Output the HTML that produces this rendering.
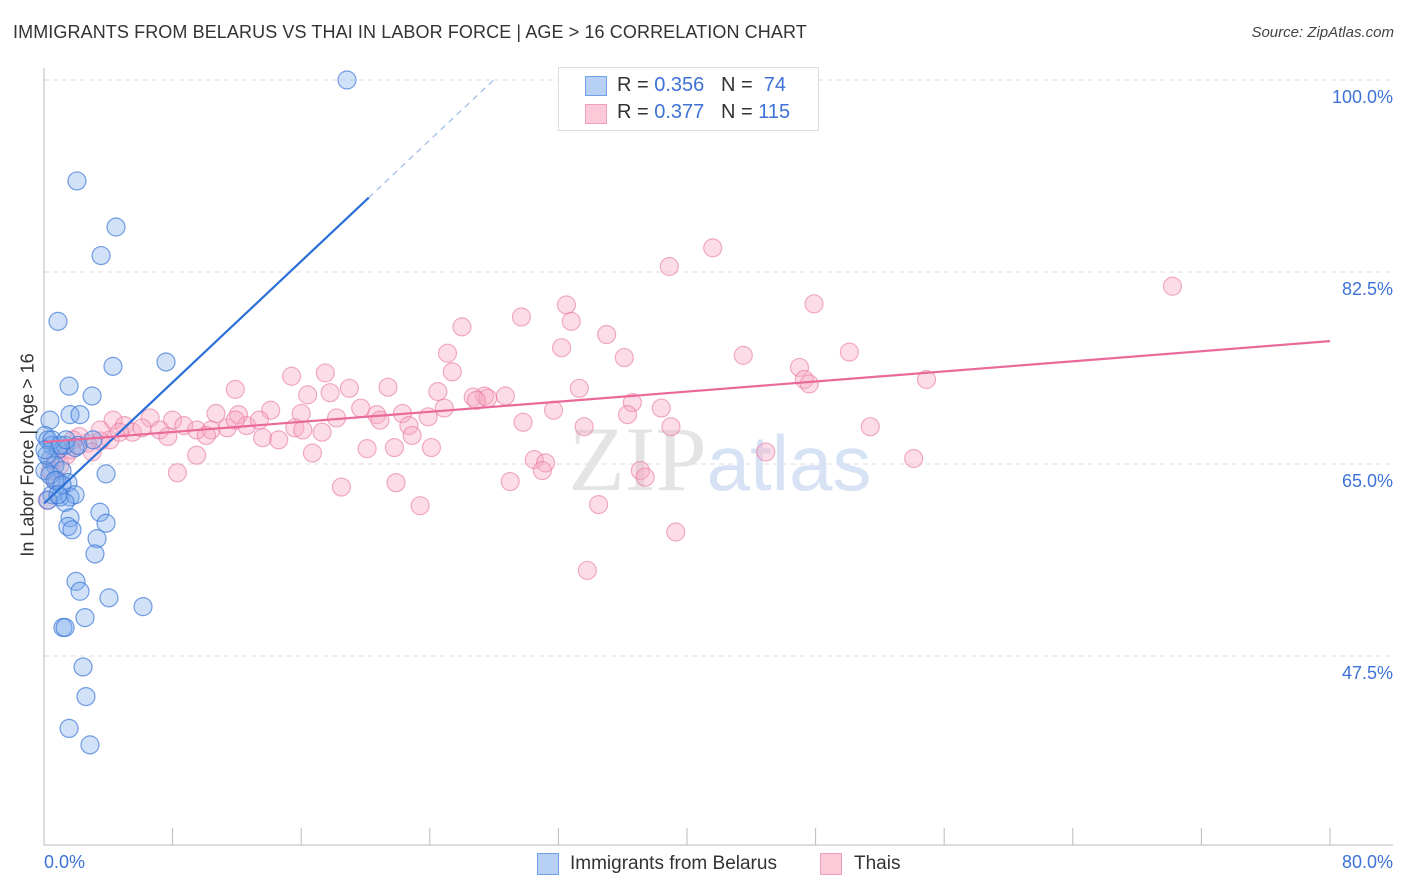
<!DOCTYPE html>
<html><head><meta charset="utf-8"><style>
body{margin:0;background:#fff;font-family:"Liberation Sans",sans-serif;}
#wrap{position:relative;width:1406px;height:892px;overflow:hidden;}
</style></head><body>
<div id="wrap">
<div style="position:absolute;left:13px;top:22px;font-size:18px;color:#333;letter-spacing:0.1px">IMMIGRANTS FROM BELARUS VS THAI IN LABOR FORCE | AGE &gt; 16 CORRELATION CHART</div>
<div style="position:absolute;right:12px;top:24px;font-size:15px;color:#444;font-style:italic">Source: ZipAtlas.com</div>
<svg id="svg" width="1406" height="892" style="position:absolute;left:0;top:0"></svg>
</div>
<script>
const blueX=[18.85,2.05,4.48,3.55,0.87,4.29,7.59,1.56,2.99,1.62,2.24,0.37,0.06,0.25,0.5,0.87,1.31,1.93,3.05,0.37,0.68,1.12,0.06,3.86,0.81,1.49,0.5,1.0,1.62,1.93,1.31,3.48,1.62,1.49,1.74,3.86,3.30,3.17,1.99,2.24,4.04,6.16,2.55,1.18,1.31,2.43,2.61,1.56,2.86,0.5,1.0,0.19,0.37,0.68,1.12,0.06,0.25,1.37,2.11,0.87];
const blueY=[100,90.8,86.6,84.0,78.0,73.9,74.3,72.1,71.2,69.5,69.5,69.0,67.6,67.2,66.7,66.3,66.7,66.5,67.2,65.4,64.9,64.4,64.4,64.1,63.5,63.3,62.2,62.0,62.0,62.2,61.5,60.6,60.1,59.3,59.0,59.6,58.2,56.8,54.3,53.4,52.8,52.0,51.0,50.1,50.1,46.5,43.8,40.9,39.4,67.2,66.7,65.8,64.0,63.5,63.1,66.3,61.7,67.2,66.7,62.2];
const pinkX=[41.6,38.9,70.2,47.9,32.5,29.7,32.8,26.0,35.0,32.2,25.1,50.1,36.1,43.5,47.0,25.4,17.5,15.4,47.3,47.6,54.9,11.9,21.4,19.0,24.5,33.3,17.8,16.4,27.4,26.7,28.7,27.6,26.9,36.6,24.9,19.7,38.4,31.7,10.7,14.1,12.1,16.0,20.7,22.3,23.9,36.3,29.8,6.6,8.0,8.7,9.5,10.4,11.4,12.6,13.6,14.6,15.6,16.1,17.3,18.2,20.9,22.7,22.9,11.9,4.3,5.0,5.5,6.1,7.2,7.7,4.1,3.5,2.7,2.2,1.8,3.0,1.4,0.7,0.4,0.2,9.5,8.3,16.7,20.1,21.8,24.1,33.6,39.0,44.9,51.4,54.1,30.5,31.2,31.0,29.0,37.1,37.4,18.5,21.9,23.4,34.5,39.3,33.8,1.7,1.0,3.5,4.7,10.1,13.4,0.7];
const pinkY=[84.7,83.0,81.2,79.6,79.5,78.4,78.0,77.5,76.8,75.6,75.1,75.2,74.7,74.9,73.8,73.4,73.3,73.0,72.7,72.3,72.7,71.8,72.0,71.9,71.6,71.9,71.5,71.3,71.2,71.1,71.2,71.0,70.8,70.6,70.1,70.1,70.1,69.9,69.6,69.9,69.5,69.6,69.5,69.6,69.3,69.5,68.8,69.2,69.0,68.5,68.1,68.1,68.3,68.5,67.4,67.2,68.3,68.1,67.9,69.2,69.0,68.5,67.6,69.0,69.0,68.5,67.9,68.3,68.1,67.5,67.2,67.1,66.9,67.5,67.2,66.1,65.8,65.4,64.4,61.7,65.8,64.2,66.0,66.4,66.5,66.5,68.4,68.4,66.1,68.4,65.5,65.4,65.1,64.4,63.4,64.4,63.8,62.9,63.3,61.2,61.3,58.8,55.3,66.3,64.9,68.1,67.9,67.6,69.0,63.5];
const yTicks=[100,82.5,65,47.5];
const yTickLabels=["100.0%","82.5%","65.0%","47.5%"];
const blueFit=[61.4,1.38];   // intercept, slope
const pinkFit=[67.0,0.115];

const NS="http://www.w3.org/2000/svg";
const svg=document.getElementById('svg');
const X=v=>44+v*(1286/80);
const Y=v=>80+(100-v)*(192/17.5);
function mk(t,a){const e=document.createElementNS(NS,t);for(const k in a)e.setAttribute(k,a[k]);svg.appendChild(e);return e;}

yTicks.forEach((t,i)=>{
  const g=mk('line',{x1:44,x2:1393,y1:Y(t),y2:Y(t),stroke:'#ddd','stroke-dasharray':'5,4','stroke-width':1});
  
  
  const l=mk('text',{x:1393,y:Y(t)+23,'text-anchor':'end','font-size':18,fill:'#3d72d6','font-family':'Liberation Sans'});
  l.textContent=yTickLabels[i];
  
  
});
const ax=mk('line',{x1:44,x2:1393,y1:845,y2:845,stroke:'#bbb'});


const ay=mk('line',{x1:44,x2:44,y1:68,y2:845,stroke:'#bbb'});


for(let i=0;i<=10;i++){
  const t=mk('line',{x1:X(i*8),x2:X(i*8),y1:828,y2:845,stroke:'#bbb'});
  
  
}
const wm=mk('text',{x:720,y:490,'text-anchor':'middle','font-size':92,fill:'#e4e4e4','font-family':'Liberation Serif'});
wm.innerHTML='ZIP<tspan fill="#d7e3f5" font-family="Liberation Sans" font-size="78">atlas</tspan>';



pinkX.forEach((x,i)=>{
  const c=mk('circle',{cx:X(x),cy:Y(pinkY[i]),r:9,fill:'rgba(248,170,195,0.4)',stroke:'rgba(232,120,160,0.6)','stroke-width':1.2});
  
  
});
blueX.forEach((x,i)=>{
  const c=mk('circle',{cx:X(x),cy:Y(blueY[i]),r:9,fill:'rgba(120,170,235,0.35)',stroke:'rgba(60,120,215,0.7)','stroke-width':1.2});
  
  
});
const bx1=20.2,bx2=(100-blueFit[0])/blueFit[1];
const bl=mk('line',{x1:X(0),y1:Y(blueFit[0]),x2:X(bx1),y2:Y(blueFit[0]+blueFit[1]*bx1),stroke:'#2a6fd8','stroke-width':2.2});


const bd=mk('line',{x1:X(bx1),y1:Y(blueFit[0]+blueFit[1]*bx1),x2:X(bx2),y2:Y(100),stroke:'#9bb8e6','stroke-width':1.2,'stroke-dasharray':'6,5'});


const pl=mk('line',{x1:X(0),y1:Y(pinkFit[0]),x2:X(80),y2:Y(pinkFit[0]+pinkFit[1]*80),stroke:'#e8699a','stroke-width':2.2});


</script>
<div style="position:absolute;left:28px;top:455px;transform:translate(-50%,-50%) rotate(-90deg);font-size:18px;color:#333;white-space:nowrap">In Labor Force | Age &gt; 16</div>
<div style="position:absolute;left:44px;top:852px;font-size:18px;color:#3d72d6">0.0%</div>
<div style="position:absolute;right:13px;top:852px;font-size:18px;color:#3d72d6">80.0%</div>
<div style="position:absolute;left:558px;top:67px;width:259px;height:62px;border:1px solid #ddd;background:#fff;font-size:20px;color:#333">
 <div style="position:absolute;left:26px;top:8px;width:20px;height:18px;background:#b7d1f5;border:1px solid #6fa0e8"></div>
 <div style="position:absolute;left:58px;top:6px">R = <span style="color:#3d72d6">0.356</span>&nbsp;&nbsp;&nbsp;N = &nbsp;<span style="color:#3d72d6">74</span></div>
 <div style="position:absolute;left:26px;top:36px;width:20px;height:18px;background:#fcc9d8;border:1px solid #eea0bb"></div>
 <div style="position:absolute;left:58px;top:33px">R = <span style="color:#3d72d6">0.377</span>&nbsp;&nbsp;&nbsp;N = <span style="color:#3d72d6">115</span></div>
</div>
<div style="position:absolute;left:537px;top:853px;font-size:19px;color:#333;display:flex;align-items:center">
 <span style="display:inline-block;width:20px;height:20px;background:#b7d1f5;border:1px solid #6fa0e8;margin-right:11px"></span>Immigrants from Belarus</div>
<div style="position:absolute;left:820px;top:853px;font-size:19px;color:#333;display:flex;align-items:center">
 <span style="display:inline-block;width:20px;height:20px;background:#fcc9d8;border:1px solid #eea0bb;margin-right:12px"></span>Thais</div>
</body></html>
